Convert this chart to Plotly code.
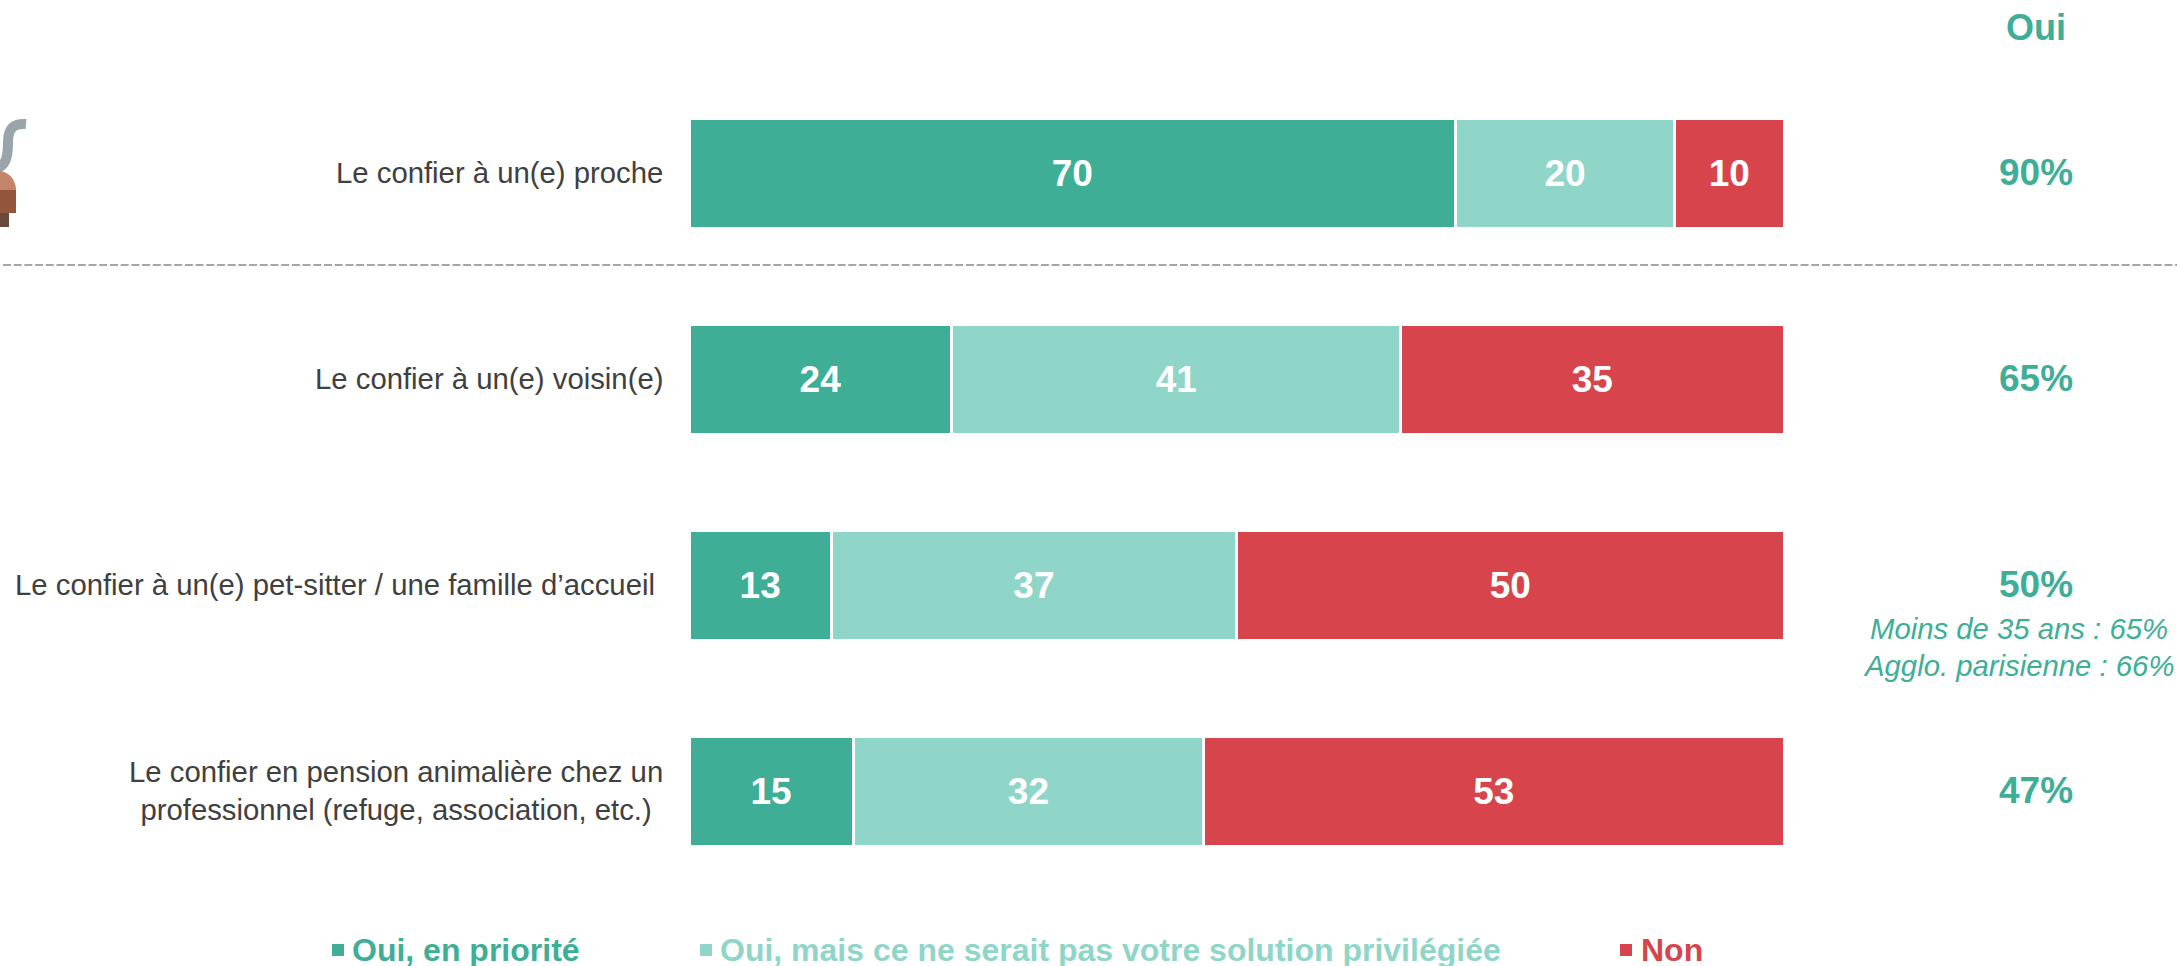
import plotly.graph_objects as go

# Data
categories = [
    "Le confier à un(e) proche",
    "Le confier à un(e) voisin(e)",
    "Le confier à un(e) pet-sitter / une famille d’accueil\u00a0",
    "Le confier en pension animalière chez un<br>professionnel (refuge, association, etc.)",
]
oui_priorite = [70, 24, 13, 15]
oui_autre = [20, 41, 37, 32]
non = [10, 35, 50, 53]
oui_total = ["90%", "65%", "50%", "47%"]
series_names = ["Oui, en priorité", "Oui, mais ce ne serait pas votre solution privilégiée", "Non"]
notes = ["Moins de 35 ans : 65%", "Agglo. parisienne : 66%"]

GREEN = "#3EAE96"
LIGHT = "#8FD6C8"
RED = "#D7444B"
FONT = "Liberation Sans, Arial, sans-serif"

W, H = 2177, 966
L, R, T, B = 689, 393, 70, 72


# page pixels -> paper coordinates (for the decoration outside the plot area)
def px(x):
    return (x - L) / (W - L - R)


def py(y):
    return 1 - (y - T) / (H - T - B)


fig = go.Figure()
for name, vals, col in zip(series_names, [oui_priorite, oui_autre, non], [GREEN, LIGHT, RED]):
    fig.add_trace(go.Bar(
        y=categories, x=vals, name=name, orientation="h",
        marker=dict(color=col, line=dict(color="white", width=3)),
        text=vals, textposition="inside", insidetextanchor="middle", textangle=0,
        textfont=dict(family=FONT, size=37, color="white", weight="bold"),
    ))

# row labels and "Oui" column
for cat, tot in zip(categories, oui_total):
    fig.add_annotation(x=px(665), xref="paper", y=cat, yref="y", text=cat, showarrow=False,
                       xanchor="right", yanchor="middle", align="center", yshift=1,
                       font=dict(family=FONT, size=29.3, color="#404040"))
    fig.add_annotation(x=px(2035.5), xref="paper", y=cat, yref="y", text="<b>%s</b>" % tot, showarrow=False,
                       xanchor="center", yanchor="middle", yshift=1,
                       font=dict(family=FONT, size=37, color=GREEN))

fig.add_annotation(x=px(2035.5), xref="paper", y=py(28), yref="paper", text="<b>Oui</b>", showarrow=False,
                   xanchor="center", yanchor="middle",
                   font=dict(family=FONT, size=36, color=GREEN))
for note, ny in zip(notes, [628, 665]):
    fig.add_annotation(x=px(2018.5), xref="paper", y=py(ny), yref="paper", text="<i>%s</i>" % note, showarrow=False,
                       xanchor="center", yanchor="middle",
                       font=dict(family=FONT, size=29.3, color=GREEN))

# legend, coloured text so built by hand
leg_x = [(332, 350), (700, 718), (1620, 1639)]
for name, (sq, tx), col in zip(series_names, leg_x, [GREEN, LIGHT, RED]):
    fig.add_shape(type="rect", xref="paper", yref="paper", x0=px(sq), x1=px(sq + 12),
                  y0=py(944), y1=py(956), fillcolor=col, line_width=0)
    fig.add_annotation(x=px(tx), xref="paper", y=py(950), yref="paper", text="<b>%s</b>" % name,
                       showarrow=False, xanchor="left", yanchor="middle",
                       font=dict(family=FONT, size=32, color=col))

# dashed separator
fig.add_shape(type="line", xref="paper", yref="paper", x0=px(3), x1=px(W), y0=py(265), y1=py(265),
              line=dict(color="#A6A6A6", width=2, dash="8px,2.7px"))

# bit of the cropped icon on the left edge
fig.add_shape(type="path", xref="paper", yref="paper", line=dict(color="#9AA5A9", width=10),
              path="M %f,%f C %f,%f %f,%f %f,%f C %f,%f %f,%f %f,%f" % (
                  px(26), py(124), px(14), py(123), px(8), py(128), px(8), py(142),
                  px(8), py(158), px(6), py(166), px(-6), py(170)))
fig.add_shape(type="path", xref="paper", yref="paper", fillcolor="#C4856A", line_width=0,
              path="M %f,%f L %f,%f C %f,%f %f,%f %f,%f L %f,%f Z" % (
                  px(-1), py(171), px(0), py(171), px(9), py(172), px(16), py(180), px(16), py(190),
                  px(-1), py(190)))
fig.add_shape(type="rect", xref="paper", yref="paper", x0=px(-1), x1=px(16), y0=py(213), y1=py(190),
              fillcolor="#93563D", line_width=0)
fig.add_shape(type="rect", xref="paper", yref="paper", x0=px(-1), x1=px(9), y0=py(227), y1=py(213),
              fillcolor="#6B4A3C", line_width=0)

fig.update_layout(
    barmode="stack", bargap=0.466, width=W, height=H,
    margin=dict(l=L, r=R, t=T, b=B, autoexpand=False),
    paper_bgcolor="white", plot_bgcolor="white", showlegend=False,
    xaxis=dict(range=[0, 100], visible=False),
    yaxis=dict(autorange="reversed", visible=False),
)
fig.write_html("out.html", config={"displayModeBar": False}, post_script="document.body.style.margin='0';")
